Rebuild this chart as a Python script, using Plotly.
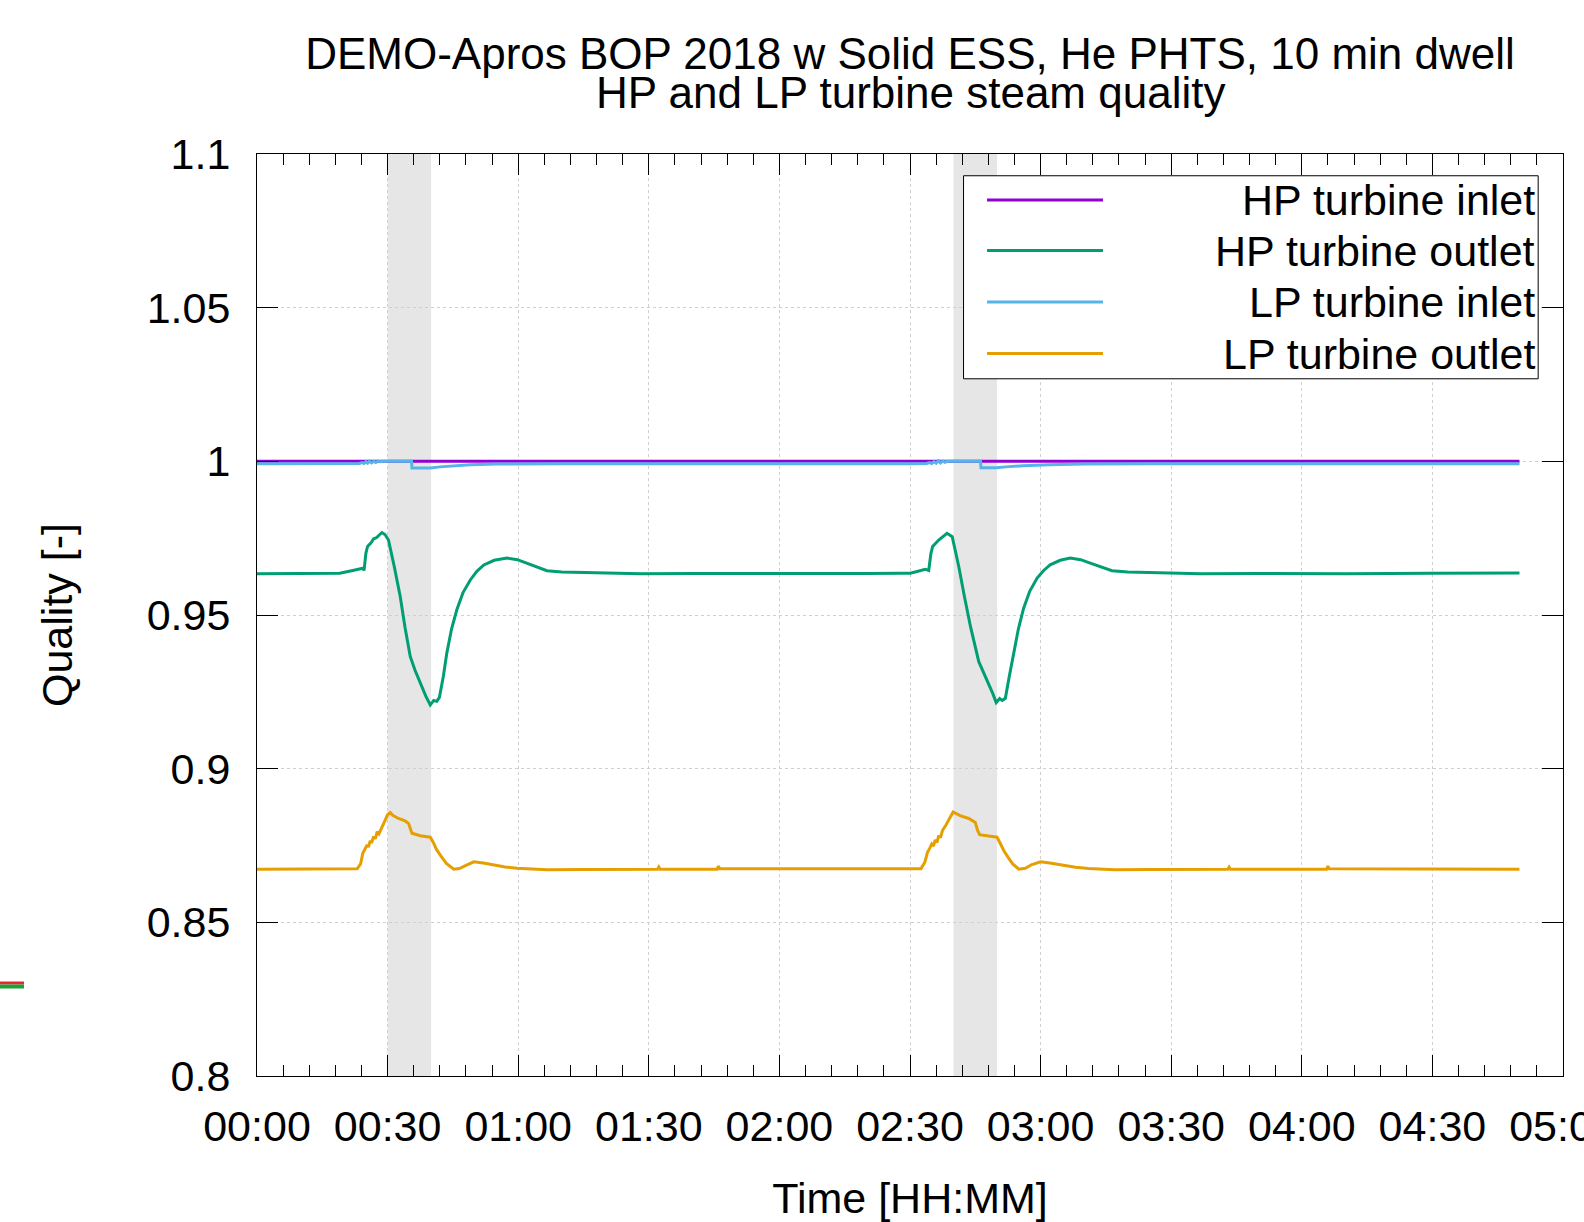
import pandas as pd
import plotly.graph_objects as go

# ---------------- data (time in minutes from start) ----------------
t_hp_in = [0, 60, 120, 180, 240, 290]
q_hp_in = [1.0, 1.0, 1.0, 1.0, 1.0, 1.0]

t_hp_out = [0, 10, 19, 22, 24.3, 24.6, 25.0, 25.4, 26.2, 26.8, 27.5, 28.2, 28.7, 29.4, 30.2,
            31.5, 32.9, 34.0, 35.2, 36.3, 37.5, 38.8, 39.8, 40.6, 41.3, 41.9, 42.8, 43.6,
            44.7, 45.9, 47.3, 49.0, 50.5, 52.1, 54.5, 57.4, 59.8, 62.0, 64.5, 66.6, 70,
            76.6, 88.1, 100, 120, 140, 147.8, 150.1, 153.5, 154.3, 154.8, 155.2, 156.6,
            157.6, 158.5, 159.7, 161.2, 162.5, 163.9, 165.8, 167.7, 169.0, 169.8, 170.6,
            171.2, 171.9, 172.8, 173.8, 174.9, 176.1, 177.5, 179.2, 180.7, 182.2, 184.5,
            186.8, 189.2, 191.4, 194, 196.4, 200, 206, 216.7, 230, 250, 270, 290]
q_hp_out = [0.9634, 0.9635, 0.9636, 0.9645, 0.9652, 0.9645, 0.9700, 0.9723, 0.9735, 0.9748,
            0.9752, 0.9762, 0.9768, 0.9762, 0.9744, 0.9660, 0.9560, 0.9460, 0.9365, 0.9320,
            0.9278, 0.9235, 0.9207, 0.9222, 0.9219, 0.9232, 0.9300, 0.9376, 0.9455, 0.9517,
            0.9572, 0.9614, 0.9642, 0.9663, 0.9678, 0.9685, 0.9680, 0.9669, 0.9655, 0.9644,
            0.9640, 0.9638, 0.9634, 0.9635, 0.9634, 0.9635, 0.9636, 0.9636, 0.9649, 0.9645,
            0.9700, 0.9723, 0.9744, 0.9755, 0.9766, 0.9755, 0.9658, 0.9560, 0.9462, 0.9348,
            0.9289, 0.9245, 0.9215, 0.9228, 0.9222, 0.9229, 0.9300, 0.9376, 0.9455, 0.9522,
            0.9577, 0.9620, 0.9645, 0.9663, 0.9678, 0.9685, 0.9680, 0.9669, 0.9655, 0.9644,
            0.9640, 0.9638, 0.9634, 0.9635, 0.9634, 0.9636, 0.9637]

t_lp_in = [0, 20, 23.5, 24.2, 24.6, 25.0, 25.4, 25.8, 26.3, 26.8, 27.3, 27.8, 28.3, 29.0,
           35.5, 35.6, 39.8, 42, 45, 49, 55, 70, 150, 153.8, 154.5, 155, 155.5, 156,
           156.5, 157, 157.5, 158, 158.6, 166.2, 166.3, 169.8, 172, 176, 182, 190, 205, 290]
q_lp_in = [0.9992, 0.9992, 0.9993, 0.9996, 0.9993, 0.9999, 0.9994, 1.0001, 0.9995, 1.0000,
           0.9996, 1.0001, 0.9999, 1.0000, 1.0000, 0.9978, 0.9978, 0.9982, 0.9986, 0.9989,
           0.9991, 0.9992, 0.9992, 0.9993, 0.9996, 0.9993, 0.9999, 0.9994, 1.0002, 0.9995,
           1.0001, 0.9997, 1.0000, 1.0000, 0.9979, 0.9979, 0.9982, 0.9986, 0.9989, 0.9991,
           0.9992, 0.9992]

t_lp_out = [0, 10, 19.1, 23.0, 23.8, 24.3, 24.9, 25.3, 25.6, 26.0, 26.3, 26.8, 27.2, 27.6,
            28.0, 28.7, 29.3, 30.0, 30.6, 31.2, 32.5, 34.0, 34.8, 35.3, 35.6, 37.5, 39.8,
            40.5, 41.2, 42.1, 43.5, 45.2, 46.5, 48.0, 49.8, 52.0, 54.4, 57.0, 59.7, 66.6,
            75, 88.1, 92.0, 92.3, 92.6, 105.7, 106.0, 106.3, 130, 145, 152.5, 153.4, 154.0,
            154.6, 155.0, 155.4, 155.8, 156.2, 156.6, 157.0, 157.5, 158.2, 159.0, 159.9,
            161.5, 163.5, 165.0, 165.5, 166.0, 168.0, 170.0, 170.8, 171.6, 172.5, 173.6,
            175.0, 176.5, 178.0, 180.0, 182.5, 185, 188, 191, 197, 205, 223.0, 223.3,
            223.6, 245.7, 246.0, 246.3, 260, 290]
q_lp_out = [0.8673, 0.8673, 0.8673, 0.8674, 0.8690, 0.8725, 0.8741, 0.8752, 0.8745, 0.8765,
            0.8758, 0.8779, 0.8772, 0.8795, 0.8788, 0.8811, 0.8830, 0.8850, 0.8857, 0.8848,
            0.8838, 0.8830, 0.8822, 0.8805, 0.8790, 0.8782, 0.8777, 0.8760, 0.8738, 0.8719,
            0.8692, 0.8673, 0.8675, 0.8685, 0.8697, 0.8693, 0.8687, 0.8680, 0.8676, 0.8671,
            0.8672, 0.8673, 0.8673, 0.8680, 0.8673, 0.8673, 0.8683, 0.8674, 0.8673, 0.8673,
            0.8674, 0.8695, 0.8727, 0.8743, 0.8755, 0.8748, 0.8768, 0.8760, 0.8782, 0.8776,
            0.8800, 0.8815, 0.8835, 0.8859, 0.8847, 0.8838, 0.8825, 0.8800, 0.8785, 0.8780,
            0.8777, 0.8755, 0.8732, 0.8712, 0.8690, 0.8673, 0.8676, 0.8688, 0.8697, 0.8692,
            0.8685, 0.8679, 0.8675, 0.8671, 0.8672, 0.8673, 0.8680, 0.8673, 0.8673, 0.8683,
            0.8674, 0.8673, 0.8673]

dwell_start = [30, 160]
dwell_end = [40, 170]

series_names = ["HP turbine inlet", "HP turbine outlet", "LP turbine inlet", "LP turbine outlet"]
series_colors = ["#9400D3", "#009E73", "#56B4E9", "#E69F00"]
y_ticks = [0.8, 0.85, 0.9, 0.95, 1.0, 1.05, 1.1]
title_line1 = "DEMO-Apros BOP 2018 w Solid ESS, He PHTS, 10 min dwell"
title_line2 = "HP and LP turbine steam quality"

# ---------------- helpers ----------------
T0 = pd.Timestamp("1970-01-01 00:00:00")


def to_time(minutes):
    return [T0 + pd.Timedelta(minutes=m) for m in minutes]


FONT = "Liberation Sans, Arial, sans-serif"
FS = 43
FS_TITLE = 44

fig = go.Figure()
series = [(t_hp_in, q_hp_in), (t_hp_out, q_hp_out), (t_lp_in, q_lp_in), (t_lp_out, q_lp_out)]
for (t, q), name, col in zip(series, series_names, series_colors):
    fig.add_trace(go.Scatter(x=to_time(t), y=q, mode="lines", name=name,
                             line=dict(color=col, width=3), showlegend=False))

# dwell bands
for s, e in zip(dwell_start, dwell_end):
    fig.add_shape(type="rect", xref="x", yref="paper",
                  x0=to_time([s])[0], x1=to_time([e])[0], y0=0, y1=1,
                  fillcolor="#e6e6e6", line=dict(width=0), layer="below")

# custom legend (gnuplot style, right-aligned text)
lx0, lx1, ly0, ly1 = 0.5410, 0.9810, 0.7562, 0.9764
fig.add_shape(type="rect", xref="paper", yref="paper", x0=lx0, x1=lx1, y0=ly0, y1=ly1,
              line=dict(color="black", width=1), fillcolor="white", layer="above")
row_y = [0.9501, 0.8953, 0.8395, 0.7835]
for name, col, ry in zip(series_names, series_colors, row_y):
    fig.add_shape(type="line", xref="paper", yref="paper", x0=0.5590, x1=0.6478,
                  y0=ry, y1=ry, line=dict(color=col, width=3), layer="above")
    fig.add_annotation(xref="paper", yref="paper", x=0.9800, y=ry, text=name,
                       showarrow=False, xanchor="right", yanchor="middle",
                       font=dict(family=FONT, size=FS, color="black"))

# second title line
fig.add_annotation(xref="paper", yref="paper", x=0.5, y=(1076 - 92) / 922, text=title_line2,
                   showarrow=False, xanchor="center", yanchor="middle",
                   font=dict(family=FONT, size=FS_TITLE, color="black"))

# small leftover marks at the bottom-left edge
fig.add_shape(type="line", xref="paper", yref="paper", x0=-257 / 1306, x1=-233 / 1306,
              y0=(1076 - 983) / 922, y1=(1076 - 983) / 922, line=dict(color="#e8262b", width=3))
fig.add_shape(type="line", xref="paper", yref="paper", x0=-257 / 1306, x1=-233 / 1306,
              y0=(1076 - 986.5) / 922, y1=(1076 - 986.5) / 922, line=dict(color="#1aa23a", width=4))

fig.update_layout(
    width=1584, height=1222,
    margin=dict(l=257, r=21, t=154, b=146, autoexpand=False),
    paper_bgcolor="white", plot_bgcolor="white",
    font=dict(family=FONT, size=FS, color="black"),
    title=dict(text=title_line1, x=910 / 1584, xanchor="center", y=1 - 54 / 1222,
               yanchor="middle", font=dict(family=FONT, size=FS_TITLE, color="black")),
    showlegend=False,
)

fig.update_xaxes(
    type="date", range=[T0, T0 + pd.Timedelta(hours=5)],
    tickformat="%H:%M", tick0=T0, dtick=30 * 60 * 1000,
    ticks="inside", ticklen=21, tickwidth=1, tickcolor="black",
    showline=True, linecolor="black", linewidth=1, mirror="allticks",
    showgrid=True, gridcolor="#cfcfcf", griddash="dot", gridwidth=1,
    minor=dict(dtick=6 * 60 * 1000, ticks="inside", ticklen=11, tickwidth=1,
               tickcolor="black", showgrid=False),
    tickfont=dict(family=FONT, size=FS, color="black"), ticklabelstandoff=12,
    ticklabeloverflow="allow",
    title=dict(text="Time [HH:MM]", standoff=36, font=dict(family=FONT, size=FS, color="black")),
    automargin=False, zeroline=False,
)
fig.update_yaxes(
    range=[0.8, 1.1], tickvals=y_ticks,
    ticks="inside", ticklen=21, tickwidth=1, tickcolor="black",
    showline=True, linecolor="black", linewidth=1, mirror="allticks",
    showgrid=True, gridcolor="#cfcfcf", griddash="dot", gridwidth=1,
    tickfont=dict(family=FONT, size=FS, color="black"), ticklabelstandoff=17,
    title=dict(text="Quality [-]", standoff=60, font=dict(family=FONT, size=FS, color="black")),
    automargin=False, zeroline=False,
)

fig.write_html("out.html")
